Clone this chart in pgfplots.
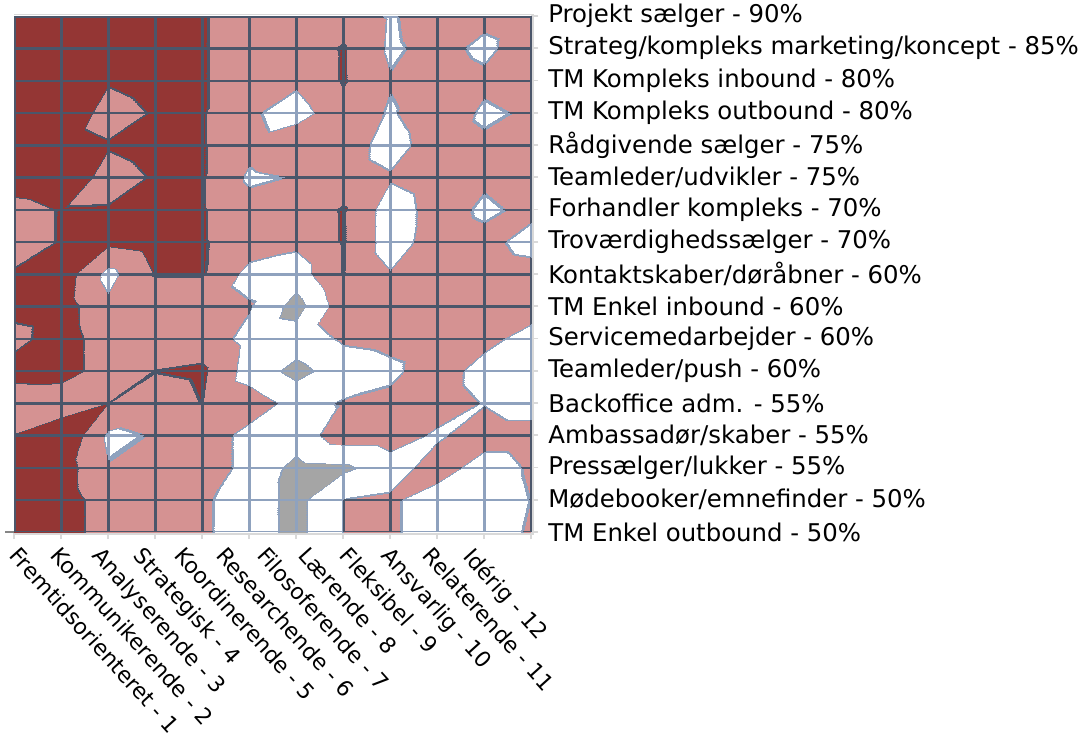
\documentclass[border=0pt]{standalone}
\usepackage{pgfplots}
\pgfplotsset{compat=1.18}
\usepackage{pgfplotstable}
\usepackage{fontspec}
\setmainfont{DejaVu Sans}

\definecolor{redfill}{HTML}{943634}
\definecolor{pinkfill}{HTML}{D59292}
\definecolor{grayfill}{HTML}{A5A5A5}
\definecolor{darkline}{HTML}{4B566A}
\definecolor{lightline}{HTML}{8FA2BE}
\definecolor{axisgray}{HTML}{D9D9D9}
\definecolor{lefttick}{HTML}{868686}

% grid values: c = trait column (1..12), y = role row (17 = top row), v = level
% bands: <1 gray, 1-2 white, 2-3 pink, >3 dark red
\pgfplotstableread[row sep=\\]{
c y v\\
1 17 3.5\\ 2 17 3.5\\ 3 17 3.5\\ 4 17 3.5\\ 5 17 3.07\\ 6 17 2.5\\ 7 17 2.5\\ 8 17 2.5\\ 9 17 1.9\\ 10 17 2.5\\ 11 17 2.23\\ 12 17 2.5\\
1 16 3.5\\ 2 16 3.5\\ 3 16 3.5\\ 4 16 3.5\\ 5 16 3.07\\ 6 16 2.5\\ 7 16 2.5\\ 8 16 3.08\\ 9 16 1.85\\ 10 16 2.3\\ 11 16 1.8\\ 12 16 2.5\\
1 15 3.5\\ 2 15 3.5\\ 3 15 3.1\\ 4 15 3.5\\ 5 15 3.07\\ 6 15 2.5\\ 7 15 2.16\\ 8 15 3.08\\ 9 15 2.07\\ 10 15 2.5\\ 11 15 2.2\\ 12 15 2.5\\
1 14 3.5\\ 2 14 4.0\\ 3 14 2.5\\ 4 14 3.1\\ 5 14 3.07\\ 6 14 2.14\\ 7 14 1.6\\ 8 14 2.63\\ 9 14 1.9\\ 10 14 2.6\\ 11 14 1.85\\ 12 14 2.13\\
1 13 3.5\\ 2 13 3.5\\ 3 13 3.1\\ 4 13 3.5\\ 5 13 3.07\\ 6 13 2.29\\ 7 13 2.78\\ 8 13 2.5\\ 9 13 1.6\\ 10 13 2.5\\ 11 13 2.16\\ 12 13 2.5\\
1 12 3.75\\ 2 12 4.0\\ 3 12 2.5\\ 4 12 3.1\\ 5 12 3.07\\ 6 12 1.85\\ 7 12 2.05\\ 8 12 2.5\\ 9 12 2.1\\ 10 12 2.5\\ 11 12 2.15\\ 12 12 2.5\\
1 11 2.5\\ 2 11 3.07\\ 3 11 3.1\\ 4 11 3.5\\ 5 11 3.07\\ 6 11 2.35\\ 7 11 2.5\\ 8 11 3.08\\ 9 11 1.5\\ 10 11 2.4\\ 11 11 1.85\\ 12 11 2.2\\
1 10 2.5\\ 2 10 3.07\\ 3 10 3.2\\ 4 10 3.5\\ 5 10 3.07\\ 6 10 2.5\\ 7 10 2.2\\ 8 10 3.08\\ 9 10 1.5\\ 10 10 2.5\\ 11 10 2.25\\ 12 10 1.7\\
1 9 3.12\\ 2 9 3.6\\ 3 9 1.7\\ 4 9 3.045\\ 5 9 3.045\\ 6 9 1.7\\ 7 9 1.5\\ 8 9 3.05\\ 9 9 2.07\\ 10 9 2.5\\ 11 9 2.5\\ 12 9 2.34\\
1 8 3.3\\ 2 8 3.47\\ 3 8 2.2\\ 4 8 2.5\\ 5 8 2.5\\ 6 8 2.08\\ 7 8 0.6\\ 8 8 2.6\\ 9 8 2.5\\ 10 8 2.5\\ 11 8 2.5\\ 12 8 2.5\\
1 7 2.7\\ 2 7 3.5\\ 3 7 2.45\\ 4 7 2.5\\ 5 7 2.5\\ 6 7 1.72\\ 7 7 1.5\\ 8 7 2.12\\ 9 7 2.25\\ 10 7 2.5\\ 11 7 2.3\\ 12 7 1.6\\
1 6 3.45\\ 2 6 3.5\\ 3 6 2.45\\ 4 6 3.02\\ 5 6 3.17\\ 6 6 1.57\\ 7 6 0.7\\ 8 6 1.5\\ 9 6 1.8\\ 10 6 2.5\\ 11 6 1.6\\ 12 6 1.5\\
1 5 2.26\\ 2 5 2.18\\ 3 5 3.0\\ 4 5 2.5\\ 5 5 3.02\\ 6 5 2.5\\ 7 5 1.67\\ 8 5 2.07\\ 9 5 2.25\\ 10 5 2.5\\ 11 5 1.95\\ 12 5 1.45\\
1 4 3.05\\ 2 4 4.0\\ 3 4 1.85\\ 4 4 2.05\\ 5 4 2.5\\ 6 4 1.72\\ 7 4 1.5\\ 8 4 2.5\\ 9 4 2.5\\ 10 4 1.85\\ 11 4 2.5\\ 12 4 2.5\\
1 3 3.5\\ 2 3 3.5\\ 3 3 2.05\\ 4 3 3.0\\ 5 3 2.5\\ 6 3 1.72\\ 7 3 0.7\\ 8 3 0.8\\ 9 3 1.5\\ 10 3 2.5\\ 11 3 1.5\\ 12 3 2.12\\
1 2 3.5\\ 2 2 3.5\\ 3 2 2.5\\ 4 2 2.5\\ 5 2 2.15\\ 6 2 1.5\\ 7 2 0.7\\ 8 2 2.02\\ 9 2 2.17\\ 10 2 1.45\\ 11 2 1.5\\ 12 2 2.02\\
1 1 3.5\\ 2 1 3.5\\ 3 1 2.5\\ 4 1 2.5\\ 5 1 2.15\\ 6 1 1.5\\ 7 1 0.7\\ 8 1 2.02\\ 9 1 2.17\\ 10 1 1.45\\ 11 1 1.5\\ 12 1 2.12\\
}\griddata

\newcommand{\lbl}{\fontsize{12.2}{14}\selectfont}
\newcommand{\xlbl}{\fontsize{11}{13}\selectfont}

\pgfplotsset{
  gridaxis/.style={
    at={(0,0)}, anchor=south west, scale only axis,
    width=258.5pt, height=258pt,
    xmin=1, xmax=12, ymin=1, ymax=17,
    colormap access=piecewise constant,
    point meta min=0, point meta max=4.2,
  },
}

\begin{document}
\begin{tikzpicture}
\path[use as bounding box] (-7pt,-111pt) rectangle (538pt,266pt);

% filled bands (positions x50: 49 = 0.98, 51 = 1.02 ...)
\begin{axis}[gridaxis,
  axis x line*=bottom, axis y line*=right,
  axis line style={draw=none},
  xtick={1,...,12}, xticklabels={},
  ytick={1,...,17},
  yticklabels={TM Enkel outbound - 50\%, Mødebooker/emnefinder - 50\%, Pressælger/lukker - 55\%,
    Ambassadør/skaber - 55\%, Backoffice adm. - 55\%, Teamleder/push - 60\%,
    Servicemedarbejder - 60\%, TM Enkel inbound - 60\%, Kontaktskaber/døråbner - 60\%,
    Troværdighedssælger - 70\%, Forhandler kompleks - 70\%, Teamleder/udvikler - 75\%,
    Rådgivende sælger - 75\%, TM Kompleks outbound - 80\%, TM Kompleks inbound - 80\%,
    Strateg/kompleks marketing/koncept - 85\%, Projekt sælger - 90\%},
  yticklabel style={font=\lbl, anchor=west, inner sep=0pt, xshift=5pt},
  tick style={draw=axisgray, line width=0.8pt},
  tick align=outside, major tick length=3.5pt,
  colormap={bands}{color(0pt)=(grayfill) color(49pt)=(lightline) color(51pt)=(white)
    color(99pt)=(lightline) color(101pt)=(pinkfill) color(149pt)=(darkline)
    color(151pt)=(redfill) color(210pt)=(redfill)},
]
\addplot[surf, shader=interp, mesh/cols=12, point meta=explicit] table[x=c, y=y, meta=v] {\griddata};
\end{axis}

% grid lines take the colour of the band they cross
\begin{scope}
\clip \foreach \i in {0,...,11} {(\i*23.5pt-0.6pt,0pt) rectangle (\i*23.5pt+0.6pt,258pt)}
      \foreach \j in {0,...,16} {(0pt,\j*16.125pt-0.6pt) rectangle (258.5pt,\j*16.125pt+0.6pt)};
\begin{axis}[gridaxis, hide axis,
  colormap={lines}{color(0pt)=(lightline) color(100pt)=(darkline) color(210pt)=(darkline)}]
\addplot[surf, shader=interp, mesh/cols=12, point meta=explicit] table[x=c, y=y, meta=v] {\griddata};
\end{axis}
\end{scope}

\draw[axisgray, line width=0.8pt] (0pt,258.7pt) -- (259.6pt,258.7pt) -- (259.6pt,-1pt) -- (0pt,-1pt);
\draw[lefttick, line width=0.8pt] (-4.5pt,0pt) -- (0pt,0pt);

\foreach \t [count=\i from 0] in {Fremtidsorienteret - 1, Kommunikerende - 2, Analyserende - 3,
    Strategisk - 4, Koordinerende - 5, Researchende - 6, Filosoferende - 7, Lærende - 8,
    Fleksibel - 9, Ansvarlig - 10, Relaterende - 11, Idérig - 12}
  \node[rotate=-48, anchor=north west, inner sep=0pt, font=\xlbl] at (3.5pt+\i*20.65pt,-6.5pt) {\t};
\end{tikzpicture}
\end{document}
